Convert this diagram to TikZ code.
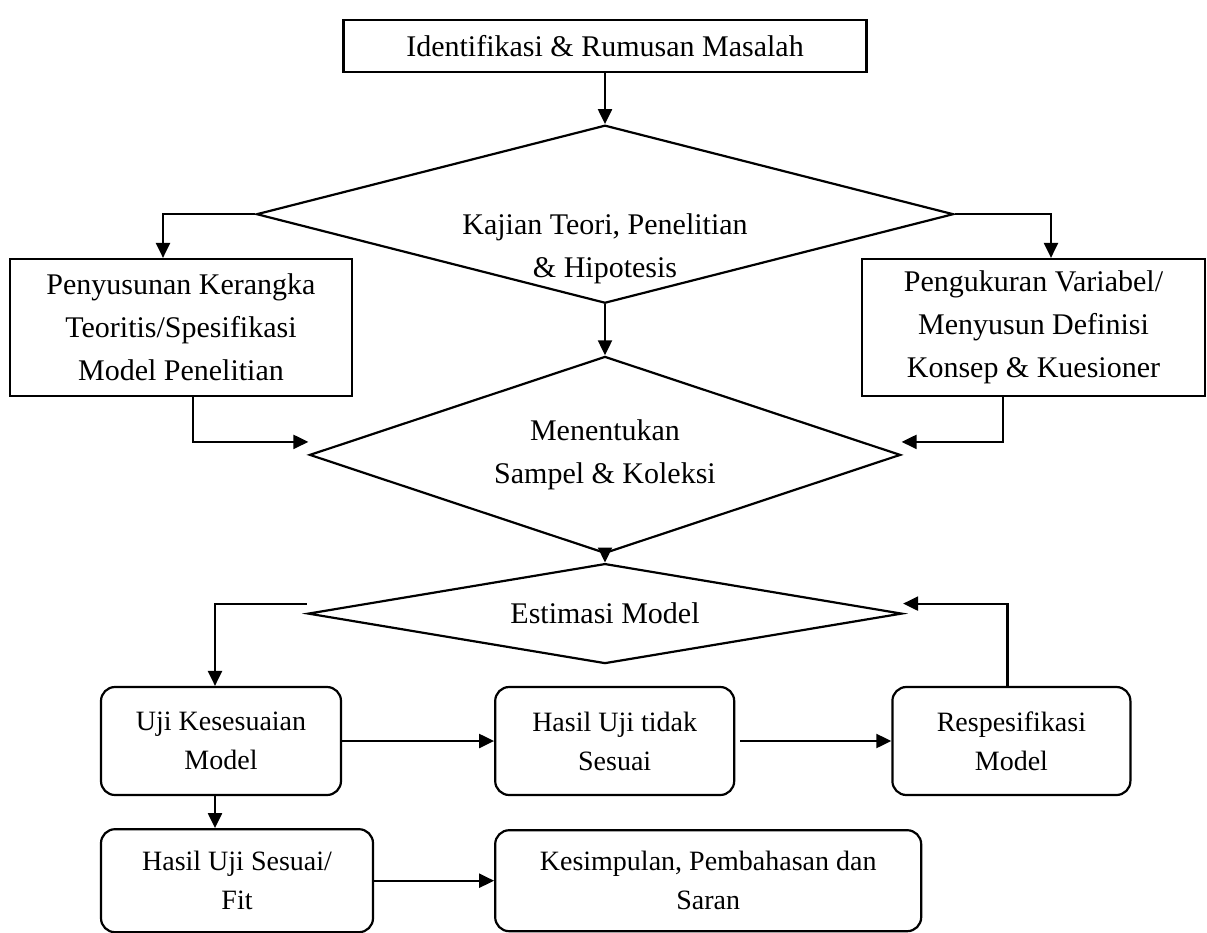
\documentclass[tikz,border=0pt]{standalone}
\usepackage{fontspec}
\setmainfont{Liberation Serif}
\usepackage{tikz}
\usetikzlibrary{positioning}
\usetikzlibrary{shapes.geometric}
\usetikzlibrary{arrows.meta}

\begin{document}
\begin{tikzpicture}[x=1pt, y=-1pt, line width=2.2pt,
                          >={Triangle[length=15pt,width=14pt]},
                          font=\fontsize{30}{43}\selectfont,
                          squarednode/.style={rectangle, draw, align=center, inner sep=0pt},
                          roundednode/.style={rectangle, draw, rounded corners=14pt, align=center, inner sep=0pt, font=\fontsize{28}{39}\selectfont},
                          decisionnode/.style={diamond, draw, aspect=3, inner sep=0pt, align=center},
                          textnode/.style={align=center, inner sep=0pt},
                      ]
                      \useasboundingbox (0,0) rectangle (1207,932);
                      %Nodes
                      \node[squarednode, minimum width=523pt, minimum height=52pt]   (masalah)  at (605,46)  {Identifikasi \& Rumusan Masalah};
                      \node[decisionnode, minimum width=697pt, minimum height=178pt] (kajian)   [below=51pt of masalah] {};
                      \node[textnode]        (kajiantext)  at ([yshift=-35pt]kajian.center) {Kajian Teori, Penelitian\\\& Hipotesis};
                      \node[squarednode, minimum width=342pt, minimum height=137pt]  (kerangka)   at (181,327.5)  {Penyusunan Kerangka\\Teoritis/Spesifikasi\\Model Penelitian};
                      \node[squarednode, minimum width=343pt, minimum height=137pt]  (pengukuran) at (1033.5,327.5) {Pengukuran Variabel/\\Menyusun Definisi\\Konsep \& Kuesioner};
                      \node[decisionnode, minimum width=591pt, minimum height=197pt] (sampel)   [below=51pt of kajian]  {Menentukan\\Sampel \& Koleksi};
                      \node[decisionnode, aspect=6, minimum width=594pt, minimum height=100pt] (estimasi) [below=8pt of sampel] {Estimasi Model};
                      \node[roundednode, minimum width=240pt, minimum height=108pt]  (uji)      at (221,741)   {Uji Kesesuaian\\Model};
                      \node[roundednode, minimum width=239pt, minimum height=108pt]  (tidak)    [right=152pt of uji]   {Hasil Uji tidak\\Sesuai};
                      \node[roundednode, minimum width=238pt, minimum height=108pt]  (respek)   [right=156pt of tidak] {Respesifikasi\\Model};
                      \node[roundednode, minimum width=272pt, minimum height=103pt, anchor=north west] (fit) at ([yshift=-32pt]uji.south west) {Hasil Uji Sesuai/\\Fit};
                      \node[roundednode, minimum width=426pt, minimum height=101pt]  (kesimpulan) [right=120pt of fit] {Kesimpulan, Pembahasan dan\\Saran};

                      %Lines
                      \draw[->] (masalah.south) -- (kajian.north);
                      \draw[->] (kajian.west) -| ([xshift=-18pt]kerangka.north);
                      \draw[->] (kajian.east) -| ([xshift=17.5pt]pengukuran.north);
                      \draw[->] (kajian.south) -- (sampel.north);
                      \draw[->] ([xshift=12pt]kerangka.south) |- ([yshift=13pt]sampel.west);
                      \draw[->] ([xshift=-30.5pt]pengukuran.south) |- ([yshift=13pt]sampel.east);
                      \draw[->] (sampel.south) -- (estimasi.north);
                      \draw[->] ([yshift=10pt]estimasi.west) -| ([xshift=-6pt]uji.north);
                      \draw[->] (uji.east) -- (tidak.west);
                      \draw[->] ([xshift=5pt]tidak.east) -- (respek.west);
                      \draw[->] ([xshift=-4pt]respek.north) |- ([yshift=10pt]estimasi.east);
                      \draw[->] ([xshift=-6pt]uji.south) -- ([xshift=-22pt]fit.north);
                      \draw[->] (fit.east) -- (kesimpulan.west);
                  \end{tikzpicture}
\end{document}
